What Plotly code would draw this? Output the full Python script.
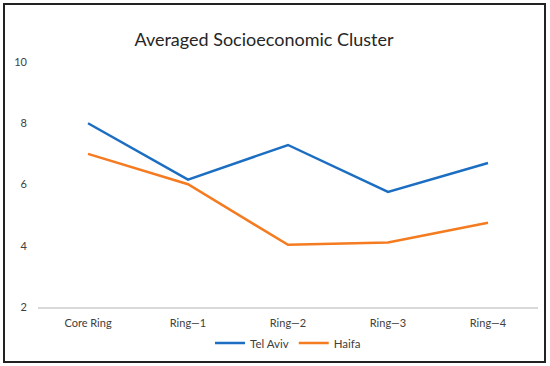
import plotly.graph_objects as go

categories = ["Core Ring", "Ring\u20141", "Ring\u20142", "Ring\u20143", "Ring\u20144"]
tel_aviv = [8.0, 6.16, 7.29, 5.76, 6.70]
haifa = [7.0, 6.01, 4.03, 4.11, 4.75]
y_ticks = [2, 4, 6, 8, 10]

FONT = "Lato, Carlito, Calibri, sans-serif"

fig = go.Figure()
fig.add_trace(go.Scatter(x=categories, y=tel_aviv, mode="lines", name="Tel Aviv",
                         line=dict(color="#1b6ec2", width=2.5)))
fig.add_trace(go.Scatter(x=categories, y=haifa, mode="lines", name="Haifa",
                         line=dict(color="#f47b20", width=2.5)))

L, R, T, B = 38, 12, 62, 59
W, H = 550, 366
pw, ph = W - L - R, H - T - B

fig.update_layout(
    width=W, height=H,
    margin=dict(l=L, r=R, t=T, b=B, autoexpand=False),
    paper_bgcolor="white", plot_bgcolor="white",
    font=dict(family=FONT, color="#595959", size=11),
    title=dict(text="Averaged Socioeconomic Cluster", x=264 / W, xanchor="center",
               xref="container",
               y=1 - 40 / H, yanchor="middle",
               font=dict(family=FONT, size=18, color="#262626")),
    xaxis=dict(type="category", range=[-0.5, 4.5], automargin=False,
               showgrid=False, showline=True, linecolor="#d9d9d9", linewidth=1.5,
               ticks="", zeroline=False, tickfont=dict(size=11, color="#404040"),
               ticklabelstandoff=5),
    yaxis=dict(range=[2, 10], tickvals=y_ticks, showgrid=False, showline=False,
               automargin=False,
               zeroline=False, ticks="", tickfont=dict(size=11, color="#404040"),
               ticklabelstandoff=10),
    legend=dict(orientation="h", x=0.5, xanchor="center", y=(307 - 343) / ph,
                yanchor="middle", font=dict(size=11.5, color="#404040"),
                itemwidth=30),
    showlegend=True,
    shapes=[dict(type="rect", xref="paper", yref="paper",
                 x0=(4 - L) / pw, x1=(545 - L) / pw,
                 y0=(307 - 362) / ph, y1=(307 - 4) / ph,
                 line=dict(color="#222222", width=2))],
)

fig.write_html("out.html", config={"displayModeBar": False},
               post_script="document.body.style.margin='0';document.body.style.overflow='hidden';")
